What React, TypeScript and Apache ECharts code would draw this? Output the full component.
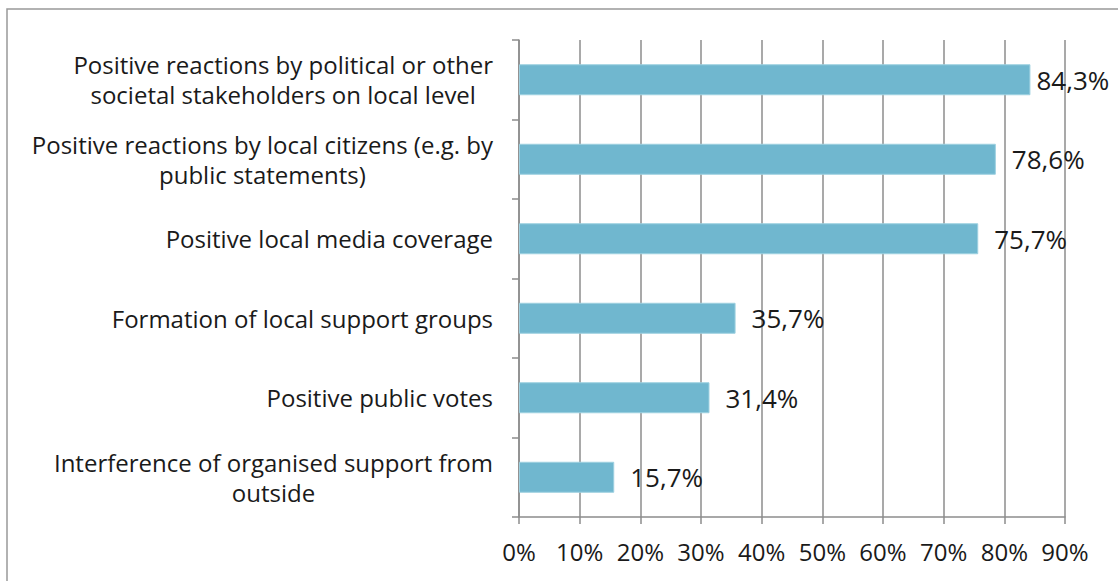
import React, { useEffect, useRef } from "react";
import * as echarts from "echarts";

const categories = [
  "Positive reactions by political or other\nsocietal stakeholders on local level",
  "Positive reactions by local citizens (e.g. by\npublic statements)",
  "Positive local media coverage",
  "Formation of local support groups",
  "Positive public votes",
  "Interference of organised support from\noutside",
];
const values = [84.3, 78.6, 75.7, 35.7, 31.4, 15.7];
const labelDistances = [6, 16, 16, 16, 16, 16];
const xTicks = [0, 10, 20, 30, 40, 50, 60, 70, 80, 90];

const FONT = "'Open Sans', 'Noto Sans', sans-serif";
const TEXT = "#1a1a1a";
const AXIS = "#8c8c8c";

export default function App() {
  const ref = useRef<HTMLDivElement>(null);
  useEffect(() => {
    if (!ref.current) return;
    const chart = echarts.init(ref.current, undefined, { renderer: "svg" });
    chart.setOption({
      animation: false,
      textStyle: { fontFamily: FONT },
      graphic: [
        {
          type: "rect",
          shape: { x: 7, y: 9, width: 1300, height: 800 },
          style: { fill: "none", stroke: "#999999", lineWidth: 1.5 },
          silent: true,
        },
      ],
      grid: { left: 519, right: 53, top: 40, bottom: 64, containLabel: false },
      xAxis: {
        type: "value",
        min: xTicks[0],
        max: xTicks[xTicks.length - 1],
        interval: 10,
        axisLine: { show: true, lineStyle: { color: AXIS, width: 1.5 } },
        axisTick: { show: true, length: 7, lineStyle: { color: AXIS, width: 1.5 } },
        splitLine: { show: true, lineStyle: { color: AXIS, width: 1.5 } },
        axisLabel: {
          formatter: (v: number) => `${v}%`,
          color: TEXT,
          fontSize: 24,
          fontFamily: FONT,
          margin: 22,
        },
      },
      yAxis: {
        type: "category",
        inverse: true,
        data: categories,
        axisLine: { show: true, lineStyle: { color: AXIS, width: 1.5 } },
        axisTick: { show: true, length: 7, inside: false, lineStyle: { color: AXIS, width: 1.5 } },
        axisLabel: {
          margin: 26,
          color: TEXT,
          fontSize: 24,
          fontFamily: FONT,
          lineHeight: 30,
          formatter: (v: string) =>
            v
              .split("\n")
              .map((l) => `{c|${l}}`)
              .join("\n"),
          rich: {
            c: { align: "center", fontSize: 24, fontFamily: FONT, color: TEXT, lineHeight: 30 },
          },
        },
      },
      series: [
        {
          type: "bar",
          data: values.map((v, i) => ({
            value: v,
            label: { distance: labelDistances[i] },
          })),
          barWidth: 31,
          itemStyle: { color: "#70b7cf", borderColor: "#9dd0e0", borderWidth: 1 },
          label: {
            show: true,
            position: "right",
            color: TEXT,
            fontSize: 26,
            fontFamily: FONT,
            formatter: (p: any) => `${p.value.toFixed(1).replace(".", ",")}%`,
          },
        },
      ],
    });
    return () => chart.dispose();
  }, []);
  return (
    <div
      ref={ref}
      style={{ position: "absolute", left: 0, top: 0, width: 1118, height: 581, background: "#fff" }}
    />
  );
}
